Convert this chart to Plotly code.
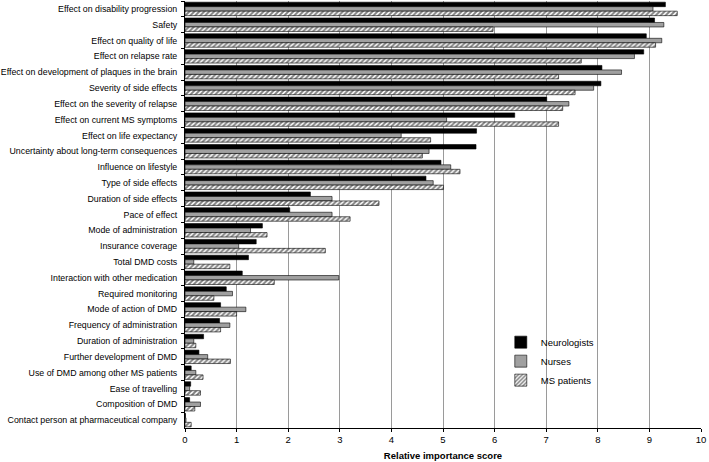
import plotly.graph_objects as go

categories = [
    "Effect on disability progression",
    "Safety",
    "Effect on quality of life",
    "Effect on relapse rate",
    "Effect on development of plaques in the brain",
    "Severity of side effects",
    "Effect on the severity of relapse",
    "Effect on current MS symptoms",
    "Effect on life expectancy",
    "Uncertainty about long-term consequences",
    "Influence on lifestyle",
    "Type of side effects",
    "Duration of side effects",
    "Pace of effect",
    "Mode of administration",
    "Insurance coverage",
    "Total DMD costs",
    "Interaction with other medication",
    "Required monitoring",
    "Mode of action of DMD",
    "Frequency of administration",
    "Duration of administration",
    "Further development of DMD",
    "Use of DMD among other MS patients",
    "Ease of travelling",
    "Composition of DMD",
    "Contact person at pharmaceutical company",
]

neurologists = [9.31, 9.10, 8.94, 8.89, 8.08, 8.06, 7.01, 6.39, 5.65, 5.64, 4.96, 4.67, 2.43,
                2.03, 1.50, 1.38, 1.23, 1.11, 0.80, 0.69, 0.67, 0.36, 0.27, 0.12, 0.11, 0.09, 0.01]
nurses = [9.07, 9.28, 9.24, 8.71, 8.46, 7.92, 7.44, 5.07, 4.19, 4.73, 5.15, 4.81, 2.85,
          2.85, 1.27, 1.04, 0.17, 2.98, 0.92, 1.18, 0.87, 0.17, 0.44, 0.21, 0.09, 0.30, 0.02]
ms_patients = [9.54, 5.97, 9.12, 7.68, 7.24, 7.56, 7.32, 7.24, 4.76, 4.60, 5.33, 5.01, 3.76,
               3.20, 1.59, 2.72, 0.87, 1.73, 0.56, 1.00, 0.69, 0.21, 0.88, 0.35, 0.30, 0.19, 0.12]

series_names = ["Neurologists", "Nurses", "MS patients"]
x_ticks = list(range(0, 11))

FONT = "Liberation Sans, Arial, sans-serif"

fig = go.Figure()
fig.add_trace(go.Bar(
    y=categories, x=neurologists, name=series_names[0], orientation="h",
    marker=dict(color="black", line=dict(color="black", width=0.6)),
))
fig.add_trace(go.Bar(
    y=categories, x=nurses, name=series_names[1], orientation="h",
    marker=dict(color="#a0a0a0", line=dict(color="black", width=0.6)),
))
fig.add_trace(go.Bar(
    y=categories, x=ms_patients, name=series_names[2], orientation="h",
    marker=dict(color="white", line=dict(color="black", width=0.6),
                pattern=dict(shape="/", fgcolor="black", bgcolor="white", size=3.5, solidity=0.55)),
))

fig.update_layout(
    width=709, height=462,
    margin=dict(l=184.5, r=7.5, t=1, b=34, autoexpand=False),
    paper_bgcolor="white", plot_bgcolor="white",
    barmode="group", bargap=0.15, bargroupgap=0,
    font=dict(family=FONT, size=9, color="black"),
    showlegend=True,
    legend=dict(
        x=0.612, y=0.235, xanchor="left", yanchor="top",
        traceorder="normal", bgcolor="rgba(0,0,0,0)",
        font=dict(family=FONT, size=9.5, color="black"),
        itemwidth=30, tracegroupgap=0,
    ),
    xaxis=dict(
        range=[0, 10], tickvals=x_ticks, ticktext=[str(t) for t in x_ticks],
        showgrid=True, gridcolor="#9a9a9a", gridwidth=1,
        showline=True, linecolor="black", linewidth=1,
        ticks="outside", ticklen=3, tickcolor="black",
        tickfont=dict(family=FONT, size=9.5),
        title=dict(text="<b>Relative importance score</b>", font=dict(family=FONT, size=9.5), standoff=7),
        zeroline=False, fixedrange=True, automargin=False,
    ),
    yaxis=dict(
        autorange="reversed", type="category",
        showline=True, linecolor="black", linewidth=1,
        ticks="outside", ticklen=3, tickcolor="black", tickson="boundaries",
        tickfont=dict(family=FONT, size=8.8), ticklabelstandoff=5,
        showgrid=False, zeroline=False, fixedrange=True, automargin=False,
    ),
)

fig.write_html(
    "out.html",
    config={"displayModeBar": False},
    post_script="document.body.style.margin='0';document.body.style.overflow='hidden';",
)
